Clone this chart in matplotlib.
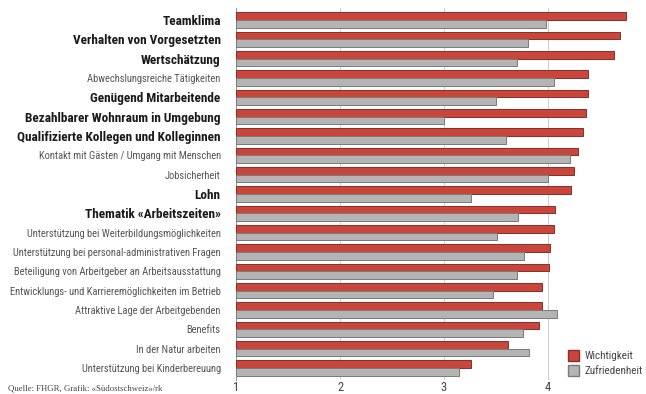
import matplotlib
matplotlib.use("Agg")
import matplotlib.pyplot as plt
import numpy as np
from matplotlib.patches import Patch

categories = [
    "Teamklima",
    "Verhalten von Vorgesetzten",
    "Wertschätzung",
    "Abwechslungsreiche Tätigkeiten",
    "Genügend Mitarbeitende",
    "Bezahlbarer Wohnraum in Umgebung",
    "Qualifizierte Kollegen und Kolleginnen",
    "Kontakt mit Gästen / Umgang mit Menschen",
    "Jobsicherheit",
    "Lohn",
    "Thematik «Arbeitszeiten»",
    "Unterstützung bei Weiterbildungsmöglichkeiten",
    "Unterstützung bei personal-administrativen Fragen",
    "Beteiligung von Arbeitgeber an Arbeitsausstattung",
    "Entwicklungs- und Karrieremöglichkeiten im Betrieb",
    "Attraktive Lage der Arbeitgebenden",
    "Benefits",
    "In der Natur arbeiten",
    "Unterstützung bei Kinderbereuung",
]
bold = [True, True, True, False, True, True, True, False, False, True,
        True, False, False, False, False, False, False, False, False]

wichtigkeit = [4.75, 4.69, 4.63, 4.38, 4.38, 4.37, 4.34, 4.29, 4.25, 4.22,
               4.07, 4.06, 4.02, 4.01, 3.94, 3.94, 3.91, 3.62, 3.26]
zufriedenheit = [3.98, 3.81, 3.70, 4.06, 3.50, 3.00, 3.60, 4.21, 4.00, 3.26,
                 3.71, 3.51, 3.77, 3.70, 3.47, 4.09, 3.76, 3.82, 3.14]
xticks = [1, 2, 3, 4]

RED, RED_E = "#c9463d", "#8e2c25"
GRAY, GRAY_E = "#b4b4b4", "#7a7a7a"
FONT = ["Roboto Condensed", "DejaVu Sans"]

fig = plt.figure(figsize=(6.46, 3.94), dpi=100)
ax = fig.add_axes([236/646, 14/394, (640-236)/646, (380-8)/394])

y = np.arange(len(categories))
h = 0.4
ax.barh(y - h/2, np.array(wichtigkeit) - 1, left=1, height=h, color=RED,
        edgecolor=RED_E, linewidth=0.7, zorder=3)
ax.barh(y + h/2, np.array(zufriedenheit) - 1, left=1, height=h, color=GRAY,
        edgecolor=GRAY_E, linewidth=0.7, zorder=3)

ax.set_xlim(1, 1 + (640-236)/104)
ax.set_ylim(18.62, -0.62)
ax.set_xticks(xticks)
ax.set_xticklabels([str(t) for t in xticks], family=FONT, fontsize=9, color="#444444")
ax.tick_params(axis="x", length=0, pad=1)
ax.set_yticks(y)
ax.set_yticklabels(categories)
ax.tick_params(axis="y", length=0, pad=11)
for lab, b in zip(ax.get_yticklabels(), bold):
    lab.set_family(FONT)
    lab.set_fontsize(9.5 if b else 7.6)
    lab.set_fontweight("bold" if b else "normal")
    lab.set_color("#1a1a1a" if b else "#555555")

for s in ["top", "right", "bottom"]:
    ax.spines[s].set_visible(False)
ax.spines["left"].set_color("#999999")
ax.spines["left"].set_linewidth(0.8)
ax.grid(axis="x", color="#cccccc", linewidth=0.7, zorder=0)
ax.set_axisbelow(True)

handles = [Patch(facecolor=RED, edgecolor=RED_E, label="Wichtigkeit"),
           Patch(facecolor=GRAY, edgecolor=GRAY_E, label="Zufriedenheit")]
fig.legend(handles=handles, loc="upper left", bbox_to_anchor=(568/646, 1 - 350/394),
           frameon=False, prop={"family": FONT, "size": 8}, handlelength=1.0,
           handleheight=1.1, handletextpad=0.45, labelspacing=0.35, labelcolor="#444444",
           borderpad=0, borderaxespad=0)

fig.text(8/646, 1 - 388/394, "Quelle: FHGR, Grafik: «Südostschweiz»/rk",
         family=["Liberation Serif", "DejaVu Serif"], fontsize=6.3, color="#444444",
         va="center", ha="left")

fig.savefig("out.png", dpi=100)
